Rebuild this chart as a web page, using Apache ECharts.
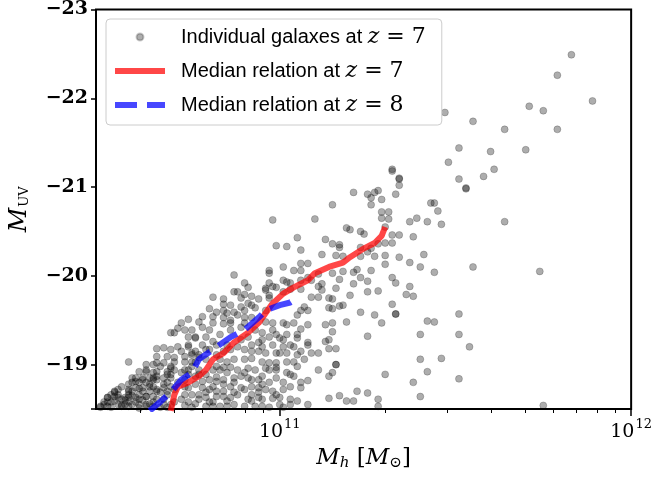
<!DOCTYPE html>
<html>
<head>
<meta charset="utf-8">
<script src="https://cdn.jsdelivr.net/npm/echarts@6/dist/echarts.min.js"></script>
<style>
  html, body { margin: 0; padding: 0; background: #fff; }
  #chart { width: 655px; height: 477px; }
</style>
</head>
<body>
<div id="chart"></div>
<script>
// individual galaxies at z = 7: [log10(Mh / Msun), M_UV]
const galaxies = [
  // bright, massive tail
  [11.83,-22.49],[11.79,-22.26],[11.89,-21.97],[11.71,-21.91],[11.75,-21.86],[11.47,-21.84],[11.55,-21.74],
  [11.64,-21.65],[11.79,-21.65],[11.51,-21.44],[11.60,-21.40],[11.70,-21.42],[11.48,-21.28],[11.61,-21.20],
  [11.58,-21.12],[11.51,-21.09],[11.53,-20.99],[11.53,-20.98],[11.32,-21.18],[11.32,-21.20],[11.34,-21.09],
  [11.34,-21.10],[11.34,-21.02],[11.33,-20.92],[11.21,-20.94],[11.25,-20.92],[11.26,-20.88],[11.27,-20.94],
  [11.28,-20.96],[11.29,-20.86],[11.26,-20.80],[11.15,-20.80],[11.10,-20.64],[11.29,-20.72],[11.31,-20.72],
  [11.29,-20.65],[11.31,-20.64],[11.43,-20.82],[11.44,-20.82],[11.45,-20.73],[11.37,-20.61],[11.39,-20.65],
  [11.42,-20.61],[11.46,-20.58],[11.64,-20.61],[11.19,-20.54],[11.20,-20.52],[11.23,-20.50],[11.24,-20.47],
  [11.30,-20.55],[11.32,-20.46],[11.34,-20.46],[11.38,-20.44],[11.13,-20.41],[10.98,-20.63],[11.05,-20.43],
  [10.99,-20.34],
  // middle band, right side
  [11.15,-20.36],[11.17,-20.35],[11.17,-20.32],[11.23,-20.32],[11.28,-20.36],[11.30,-20.37],[11.32,-20.37],
  [11.25,-20.27],[11.26,-20.31],[11.16,-20.23],[11.18,-20.22],[11.23,-20.22],[11.27,-20.22],[11.30,-20.23],
  [11.41,-20.24],[11.34,-20.21],[11.37,-20.15],[11.30,-20.13],[11.40,-20.10],[11.55,-20.10],[11.74,-20.05],
  [11.44,-20.04],[11.21,-20.04],[11.26,-20.06],[11.22,-20.07],[11.15,-20.03],[11.18,-20.05],[11.17,-19.96],
  [11.23,-19.98],[11.25,-19.94],[11.32,-19.98],[11.33,-19.92],[11.37,-19.88],[11.21,-19.91],[11.25,-19.82],
  [11.20,-19.78],[11.36,-19.79],[11.38,-19.77],[11.15,-19.74],[11.14,-19.75],[11.16,-19.86],[11.28,-19.83],
  [11.51,-19.57],[11.51,-19.34],[11.54,-19.20],[11.51,-18.84],[11.75,-18.54],
  // faint, right side
  [11.14,-19.64],[11.15,-19.63],[11.17,-19.66],[11.18,-19.67],[11.23,-19.59],[11.27,-19.56],[11.32,-19.68],
  [11.33,-19.57],[11.33,-19.57],[11.29,-19.47],[11.15,-19.47],[11.19,-19.48],[11.42,-19.49],[11.44,-19.48],
  [11.40,-19.34],[11.25,-19.32],[11.15,-19.37],[11.14,-19.28],[11.13,-19.26],[11.14,-19.18],[11.16,-19.18],
  [11.16,-19.00],[11.16,-19.00],[11.40,-19.06],[11.46,-19.07],[11.42,-18.92],[11.38,-18.80],[11.30,-18.89],
  [11.15,-18.91],[11.14,-18.87],[11.40,-18.64],[11.14,-18.62],[11.17,-18.65],[11.22,-18.70],[11.25,-18.68],
  [11.19,-18.59],[11.21,-18.59],[11.28,-18.61],[11.28,-18.53],
  // around 1e11
  [11.02,-20.33],[10.97,-20.06],[10.97,-20.03],[11.01,-20.10],[11.04,-20.06],[10.97,-19.92],[10.98,-19.88],
  [10.99,-19.87],[11.01,-19.95],[11.02,-19.93],[11.03,-19.92],[10.96,-19.84],[11.01,-19.82],[11.03,-19.85],
  [10.97,-19.75],[10.97,-19.78],[11.05,-19.56],[11.06,-20.14],[11.08,-20.14],[11.06,-20.06],[11.11,-20.02],
  [11.06,-19.95],[11.08,-19.98],[11.09,-19.95],[11.11,-19.88],[11.12,-19.91],[11.12,-19.84],[11.11,-19.76],
  [11.09,-19.76],[11.06,-19.85],[11.07,-19.65],[11.06,-19.61],[11.08,-19.61],[11.06,-20.29],[11.12,-20.24],
  // upper edge of the main cloud
  [10.87,-20.01],[10.90,-19.92],[10.91,-19.87],[10.96,-19.86],[10.88,-19.82],[10.87,-19.82],[10.90,-19.79],
  [10.92,-19.77],[10.94,-19.74],[10.89,-19.75],[10.81,-19.76],[10.84,-19.74],[10.84,-19.68],[10.86,-19.67],
  [10.91,-19.69],[10.92,-19.67],[10.89,-19.65],[10.90,-19.61],[10.93,-19.64],[10.96,-19.61],[10.80,-19.63],
  [10.82,-19.59],[10.84,-19.61],[10.85,-19.58],[10.87,-19.59],[10.88,-19.56],[10.78,-19.54],[10.81,-19.54],
  [10.84,-19.53],[10.86,-19.50],[10.74,-19.51],[10.90,-19.53],[10.92,-19.53],[10.72,-19.47],[10.77,-19.48],
  [10.73,-19.39],
  // main cloud, centre
  [10.81,-19.47],[10.84,-19.46],[10.86,-19.47],[10.90,-19.47],[10.96,-19.48],[10.98,-19.47],[11.01,-19.47],
  [11.02,-19.45],[11.04,-19.47],[11.06,-19.40],[11.08,-19.45],[11.13,-19.45],[10.95,-19.36],[10.99,-19.34],
  [11.02,-19.34],[11.05,-19.34],[11.05,-19.30],[11.00,-19.30],[10.97,-19.31],[10.91,-19.31],[11.08,-19.22],
  [11.08,-19.25],[11.11,-19.13],[11.09,-19.13],[10.94,-19.25],[10.95,-19.20],[10.98,-19.22],[11.01,-19.20],
  [11.03,-19.22],[11.04,-19.20],[11.06,-19.15],[11.05,-19.11],[11.02,-19.13],[11.00,-19.13],[10.99,-19.13],
  [10.96,-19.13],[10.94,-19.15],[10.92,-19.15],[10.90,-19.17],[10.88,-19.20],[10.86,-19.17],[10.84,-19.15],
  [10.83,-19.06],[10.85,-19.03],[10.87,-19.06],[10.90,-19.06],[10.92,-19.07],[10.95,-19.03],[10.97,-19.02],
  [10.99,-19.02],[11.02,-19.03],[11.04,-19.03],[11.07,-19.06],[11.05,-18.98],[10.82,-18.98],[10.84,-18.97],
  [10.86,-18.97],[10.88,-18.94],[10.91,-18.96],[10.93,-18.94],[10.96,-18.96],[10.97,-18.94],[10.99,-18.94],
  [10.99,-18.97],[11.02,-18.91],[11.03,-18.89],[10.99,-18.85],[10.95,-18.87],[10.94,-18.83],[10.91,-18.85],
  [10.89,-18.87],[10.87,-18.85],[10.84,-18.83],[10.82,-18.81],[11.11,-18.94],[11.08,-18.82],[11.04,-18.87],
  [10.81,-18.75],[10.84,-18.78],[10.86,-18.75],[10.89,-18.74],[10.92,-18.75],[10.94,-18.74],[10.96,-18.72],
  [10.98,-18.70],[11.01,-18.72],[11.03,-18.75],[11.06,-18.74],[11.06,-18.80],[10.82,-18.64],[10.84,-18.64],
  [10.86,-18.63],[10.88,-18.66],[10.91,-18.61],[10.94,-18.63],[10.95,-18.61],[10.98,-18.62],[11.00,-18.63],
  [11.03,-18.61],[11.05,-18.59],[10.81,-18.53],[10.83,-18.53],[10.85,-18.53],[10.90,-18.53],[10.93,-18.53],
  [10.97,-18.52],[11.03,-18.55],[11.08,-18.55],
  [10.79,-18.89],[10.82,-18.86],[10.85,-18.91],[10.87,-18.80],[10.90,-18.72],[10.92,-18.83],[10.94,-18.69],
  [10.97,-18.80],[10.99,-18.66],[11.01,-18.80],[10.82,-18.70],[10.85,-18.59],[10.87,-18.55],[10.92,-18.59],
  [10.95,-18.53],[11.00,-18.55],[11.01,-18.52],[10.79,-18.53],[10.78,-18.74],[10.77,-18.66],
  [10.79,-19.17],[10.82,-19.11],[10.85,-19.22],[10.89,-19.28],[10.92,-19.22],[10.86,-19.39],[10.89,-19.42],
  [10.93,-19.39],[10.95,-19.28],[10.98,-19.39],[11.01,-19.28],[10.83,-19.34],[10.82,-19.22],
  [10.83,-18.94],[10.90,-18.91],[10.95,-18.78],[10.87,-18.69],[10.92,-18.66],
  // low-mass end
  [10.57,-19.03],[10.69,-19.36],[10.65,-19.18],[10.67,-19.19],[10.65,-19.09],[10.68,-19.09],[10.71,-19.20],
  [10.74,-19.22],[10.76,-19.30],[10.75,-19.39],[10.78,-19.42],[10.80,-19.39],[10.79,-19.31],[10.78,-19.22],
  [10.81,-19.26],[10.73,-19.09],[10.70,-19.03],[10.69,-18.98],[10.66,-18.98],[10.64,-19.00],[10.62,-18.92],
  [10.60,-18.92],[10.61,-18.85],[10.59,-18.81],[10.57,-18.78],[10.55,-18.75],[10.53,-18.70],[10.52,-18.66],
  [10.51,-18.63],[10.50,-18.58],[10.52,-18.58],[10.55,-18.61],[10.57,-18.66],[10.58,-18.70],[10.61,-18.74],
  [10.63,-18.78],[10.65,-18.83],[10.68,-18.89],[10.69,-18.85],[10.72,-18.91],[10.73,-18.94],[10.75,-18.98],
  [10.76,-19.03],[10.68,-18.80],[10.65,-18.70],[10.62,-18.64],[10.60,-18.61],[10.57,-18.58],[10.55,-18.53],
  [10.62,-18.53],[10.67,-18.61],[10.71,-19.41],[10.74,-19.31],[10.76,-19.15],[10.79,-19.06],[10.81,-18.94],
  [10.80,-18.83],[10.79,-18.69],[10.80,-18.58],[10.74,-18.58],[10.73,-18.75],[10.49,-18.52],[10.51,-18.53],
  [10.54,-18.63],[10.56,-18.63],[10.58,-18.55],[10.60,-18.66],[10.63,-18.70],[10.64,-18.58],[10.66,-18.52],
  [10.68,-18.70],[10.70,-18.72],[10.72,-18.61],[10.75,-18.66],[10.76,-18.78],[10.77,-18.89],[10.73,-18.83],
  [10.75,-18.52],[10.77,-18.61],[10.69,-19.17],[10.75,-19.11],[10.77,-18.94],[10.60,-18.80],[10.58,-18.85],
  [10.54,-18.72],[10.62,-19.00],[10.65,-18.92],[10.53,-18.64],[10.56,-18.55],[10.59,-18.58],[10.69,-18.55],
  [10.73,-18.66],[10.64,-18.85],[10.67,-18.74],[10.74,-18.89],
  [10.70,-19.36],[10.76,-19.31],[10.74,-19.20],[10.65,-19.02],[10.67,-19.02],[10.70,-19.08],[10.73,-19.03],
  [10.75,-19.13],[10.77,-19.08],[10.69,-18.96],[10.62,-18.94],[10.64,-18.91],[10.61,-18.83],[10.63,-18.85],
  [10.65,-18.87],[10.68,-18.92],[10.69,-18.89],[10.74,-18.94],[10.76,-18.87],[10.59,-18.85],[10.58,-18.80],
  [10.57,-18.70],[10.53,-18.69],[10.59,-18.74],[10.61,-18.70],[10.63,-18.75],[10.65,-18.72],[10.67,-18.78],
  [10.64,-18.64],[10.62,-18.64],[10.59,-18.63],[10.57,-18.63],[10.68,-18.66],[10.51,-18.63],[10.51,-18.58],
  [10.53,-18.59],[10.55,-18.55],[10.57,-18.53],[10.60,-18.55],[10.62,-18.55],[10.64,-18.53],[10.67,-18.55],
  [10.52,-18.52],[10.49,-18.53],
  [10.50,-18.55],[10.54,-18.55],[10.56,-18.60],[10.58,-18.65],[10.60,-18.51],[10.61,-18.60],[10.63,-18.56],
  [10.65,-18.61],[10.68,-18.52],[10.70,-18.58],[10.73,-18.54],[10.76,-18.56],[10.79,-18.63],[10.81,-18.58],
  [10.84,-18.70],[10.54,-18.66],[10.57,-18.72],[10.60,-18.73],[10.62,-18.80],[10.64,-18.75],[10.66,-18.69],
  [10.69,-18.75],[10.71,-18.80],[10.74,-18.74],[10.78,-18.81],[10.80,-18.72],[10.64,-18.83],[10.67,-18.85],
  [10.70,-18.94],[10.75,-19.03],[10.77,-19.11],[10.72,-19.15],[10.80,-19.17]
];

// median relations: [log10(Mh / Msun), M_UV]
const medianZ7 = [
  [10.69,-18.48],[10.70,-18.66],[10.71,-18.75],[10.74,-18.80],[10.77,-18.87],[10.79,-18.94],[10.81,-19.06],
  [10.84,-19.13],[10.87,-19.25],[10.91,-19.36],[10.94,-19.47],[10.96,-19.58],[10.98,-19.69],[11.01,-19.80],
  [11.04,-19.87],[11.08,-19.95],[11.10,-20.03],[11.14,-20.10],[11.18,-20.15],[11.20,-20.21],[11.24,-20.31],
  [11.27,-20.37],[11.29,-20.45],[11.30,-20.55]
];
const medianZ8 = [
  [10.63,-18.48],[10.66,-18.58],[10.69,-18.69],[10.72,-18.83],[10.75,-18.91],[10.77,-19.06],[10.81,-19.17],
  [10.86,-19.31],[10.90,-19.39],[10.94,-19.53],[10.96,-19.61],[11.00,-19.67],[11.03,-19.70],[11.05,-19.75]
];

const xMajorTicks = [1e11, 1e12];
const xMinorTicks = [4e10, 5e10, 6e10, 7e10, 8e10, 9e10, 2e11, 3e11, 4e11, 5e11, 6e11, 7e11, 8e11, 9e11];
const seriesNames = ['Individual galaxes at z = 7', 'Median relation at z = 7', 'Median relation at z = 8'];
const legendLabels = {
  'Individual galaxes at z = 7': 'Individual galaxes at {z|z}{n| = 7}',
  'Median relation at z = 7': 'Median relation at {z|z}{n| = 7}',
  'Median relation at z = 8': 'Median relation at {z|z}{n| = 8}'
};

const toMass = arr => arr.map(([lm, m]) => [Math.pow(10, lm), m]);

const chart = echarts.init(document.getElementById('chart'));
const serif = 'DejaVu Serif';
const lineIcon = 'path://M0,0 M50,6 M0,3 L50,3';

chart.setOption({
  animation: false,
  backgroundColor: '#fff',
  grid: {
    left: 95, right: 21, top: 7, bottom: 68,
    show: true, borderColor: '#000', borderWidth: 2, backgroundColor: 'transparent'
  },
  legend: {
    orient: 'vertical',
    left: 106, top: 19,
    padding: [7, 16, 9, 6],
    itemWidth: 50, itemHeight: 7, itemGap: 12,
    backgroundColor: 'rgba(255,255,255,0.85)',
    borderColor: '#cccccc', borderWidth: 1, borderRadius: 4,
    selectedMode: false,
    data: [
      { name: seriesNames[0], icon: 'circle' },
      { name: seriesNames[1], icon: lineIcon,
        itemStyle: { color: 'rgba(0,0,0,0)', borderColor: '#ff0000', borderWidth: 6 } },
      { name: seriesNames[2], icon: lineIcon,
        itemStyle: { color: 'rgba(0,0,0,0)', borderColor: '#0000ff', borderWidth: 6, borderType: [22, 10] } }
    ],
    formatter: name => legendLabels[name],
    textStyle: {
      fontFamily: 'Liberation Sans', fontSize: 20, color: '#000', lineHeight: 20,
      padding: [0, 0, 0, 11],
      rich: {
        z: { fontFamily: serif, fontStyle: 'italic', fontSize: 22, lineHeight: 20, color: '#000' },
        n: { fontFamily: serif, fontSize: 22, lineHeight: 20, color: '#000' }
      }
    }
  },
  xAxis: [
    {
      type: 'log', logBase: 10, min: 3e10, max: 1e12,
      position: 'bottom',
      axisLine: { show: false },
      splitLine: { show: false },
      axisTick: { show: true, customValues: xMajorTicks, length: 7, lineStyle: { color: '#000', width: 1.5 } },
      axisLabel: {
        customValues: xMajorTicks, margin: 9,
        formatter: v => '{b|10}{s|' + Math.round(Math.log10(v)) + '}',
        rich: {
          b: { fontFamily: serif, fontSize: 19, color: '#000', lineHeight: 24, verticalAlign: 'bottom' },
          s: { fontFamily: serif, fontSize: 13, color: '#000', lineHeight: 24, verticalAlign: 'top', padding: [0, 0, 9, 1] }
        }
      },
      name: '{i|M}{sub|h}{r| [}{i|M}{sub|\u2299}{r|]}',
      nameLocation: 'middle', nameGap: 35,
      nameTextStyle: {
        rich: {
          i: { fontFamily: serif, fontStyle: 'italic', fontSize: 23, color: '#000' },
          r: { fontFamily: serif, fontSize: 23, color: '#000' },
          sub: { fontFamily: serif, fontStyle: 'italic', fontSize: 15, color: '#000', padding: [9, 0, 0, 0] }
        }
      }
    },
    {
      type: 'log', logBase: 10, min: 3e10, max: 1e12,
      position: 'bottom',
      axisLine: { show: false },
      splitLine: { show: false },
      axisTick: { show: true, customValues: xMinorTicks, length: 4, lineStyle: { color: '#000', width: 1 } },
      axisLabel: { show: false }
    }
  ],
  yAxis: {
    type: 'value', inverse: true, min: -23, max: -18.5, interval: 1,
    axisLine: { show: false },
    splitLine: { show: false },
    axisTick: { show: true, length: 5, lineStyle: { color: '#000', width: 1.5 } },
    axisLabel: {
      margin: 8, color: '#000', fontFamily: serif, fontWeight: 'bold', fontSize: 19,
      formatter: v => Number.isInteger(v) ? '\u2212' + Math.abs(v) : ''
    },
    name: '{i|M}{sub|UV}',
    nameLocation: 'middle', nameRotate: 90, nameGap: 64,
    nameTextStyle: {
      rich: {
        i: { fontFamily: serif, fontStyle: 'italic', fontSize: 24, color: '#000' },
        sub: { fontFamily: serif, fontSize: 13, color: '#000', padding: [9, 0, 0, 1] }
      }
    }
  },
  series: [
    {
      name: seriesNames[0],
      type: 'scatter',
      xAxisIndex: 0,
      symbolSize: 7,
      itemStyle: { color: 'rgba(0,0,0,0.4)', borderColor: 'rgba(0,0,0,0.25)', borderWidth: 1 },
      data: toMass(galaxies)
    },
    {
      name: seriesNames[1],
      type: 'line',
      xAxisIndex: 0,
      symbol: 'none',
      lineStyle: { color: '#ff0000', width: 6, opacity: 0.72 },
      itemStyle: { color: '#ff0000', opacity: 0.72 },
      data: toMass(medianZ7)
    },
    {
      name: seriesNames[2],
      type: 'line',
      xAxisIndex: 0,
      symbol: 'none',
      lineStyle: { color: '#0000ff', width: 6, opacity: 0.72, type: [22, 10] },
      itemStyle: { color: '#0000ff', opacity: 0.72 },
      data: toMass(medianZ8)
    }
  ]
});
</script>
</body>
</html>
